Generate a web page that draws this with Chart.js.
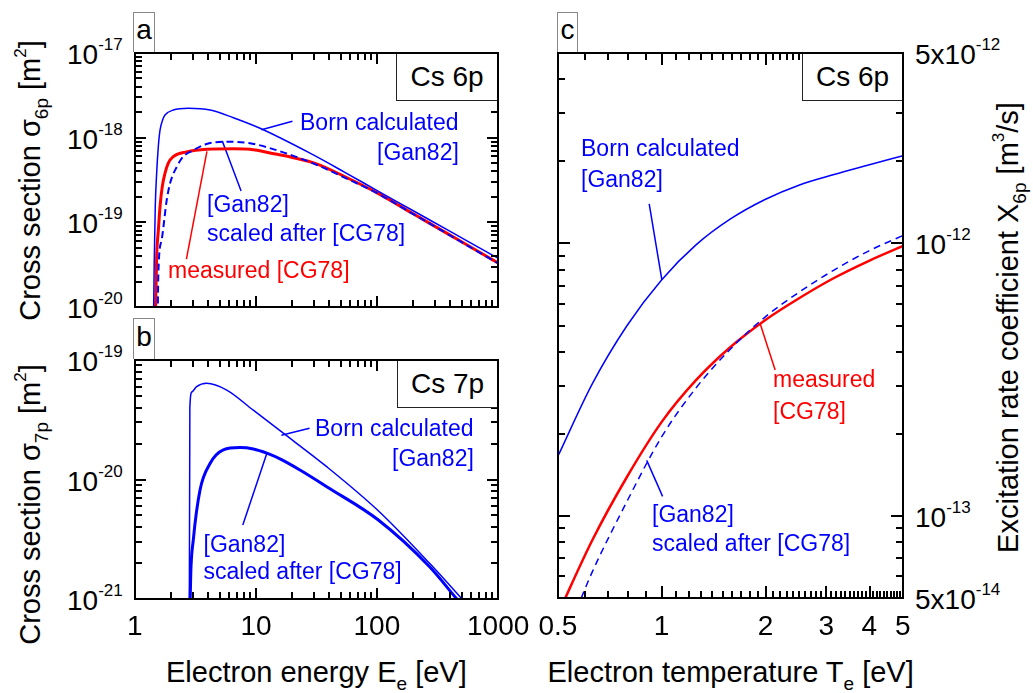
<!DOCTYPE html>
<html>
<head>
<meta charset="utf-8">
<title>Cs 6p / 7p electron impact excitation</title>
<script src="https://cdn.jsdelivr.net/npm/chart.js@4.4.1/dist/chart.umd.min.js"></script>
<style>
  body { margin: 0; background: #fff; }
  #fig { position: relative; width: 1033px; height: 693px; overflow: hidden; background: #fff;
         font-family: "Liberation Sans", Arial, Helvetica, sans-serif; color: #000; }
  #fig canvas { position: absolute; }
  .lbl { position: absolute; white-space: nowrap; line-height: 1; }
  .lbl .sp { position: relative; top: -14px; font-size: 17px; }
  .lbl .sb { position: relative; top: 8px; font-size: 19px; }
  .box { position: absolute; box-sizing: border-box; background: #fff; line-height: 1;
         display: flex; align-items: center; justify-content: center; }
</style>
</head>
<body>
<div id="fig">
  <canvas id="chartA"></canvas>
  <canvas id="chartB"></canvas>
  <canvas id="chartC"></canvas>
</div>
<script>
// ---- panel a : Cs 6p cross section vs electron energy ----
const energyBornA  = [1.40, 1.44, 1.47, 1.51, 1.56, 1.61, 1.70, 1.77, 2.07, 2.76, 4.17, 6.5, 10.8, 27.7, 53.3, 102, 196, 376, 722, 1000];
const sigmaBornA   = [1e-21, 3e-20, 1.5e-19, 3.8e-19, 8e-19, 1.23e-18, 1.65e-18, 1.85e-18, 2.12e-18, 2.22e-18, 2.12e-18, 1.72e-18, 1.29e-18, 6.6e-19, 3.95e-19, 2.34e-19, 1.39e-19, 8.24e-20, 4.89e-20, 3.77e-20];
const energyMeasA  = [1.45, 1.48, 1.51, 1.56, 1.61, 1.68, 1.77, 1.88, 2.07, 2.67, 3.93, 6.5, 8.9, 14.5, 20.3, 31.6, 53.3, 102, 196, 376, 722, 1000];
const sigmaMeasA   = [1e-21, 1e-20, 3.9e-20, 8.1e-20, 1.53e-19, 2.64e-19, 3.8e-19, 4.98e-19, 5.96e-19, 6.8e-19, 7.3e-19, 7.4e-19, 7.3e-19, 6.4e-19, 5.8e-19, 4.9e-19, 3.5e-19, 2.2e-19, 1.28e-19, 7.45e-20, 4.34e-20, 3.31e-20];
const energyScaledA = [1.52, 1.56, 1.66, 1.83, 1.95, 2.21, 2.5, 3.03, 3.91, 5.37, 8.9, 17.9, 33.7, 53.3, 102, 196, 376, 722, 1000];
const sigmaScaledA  = [1e-21, 2.5e-20, 6.2e-20, 1.84e-19, 2.9e-19, 4.5e-19, 5.96e-19, 7.1e-19, 8.4e-19, 8.97e-19, 8.6e-19, 6.5e-19, 4.6e-19, 3.4e-19, 2.18e-19, 1.27e-19, 7.4e-20, 4.3e-20, 3.3e-20];
// leader lines (label -> curve)
const leadBornAE = [11.1, 20.0],  leadBornAS = [1.24e-18, 1.56e-18];
const leadScalAE = [5.27, 7.53],  leadScalAS = [9.1e-19, 2.34e-19];
const leadMeasAE = [3.93, 2.66],  leadMeasAS = [6.9e-19, 3.68e-20];

// ---- panel b : Cs 7p cross section ----
const energyBornB  = [2.80, 2.84, 2.95, 3.23, 3.91, 5.73, 9.5, 16.3, 38.4, 102, 272, 504, 1000];
const sigmaBornB   = [1e-22, 4.0e-20, 5.4e-20, 5.98e-20, 6.38e-20, 5.6e-20, 3.8e-20, 2.5e-20, 1.28e-20, 5.5e-21, 1.99e-21, 1e-21, 4.5e-22];
const energyScaledB = [2.82, 2.89, 3.03, 3.45, 4.17, 5.37, 7.38, 9.5, 12.3, 16.4, 23.1, 38.4, 102, 272, 457, 1000];
const sigmaScaledB  = [5e-22, 1.64e-21, 3.1e-21, 8.2e-21, 1.36e-20, 1.77e-20, 1.85e-20, 1.8e-20, 1.66e-20, 1.46e-20, 1.2e-20, 8.7e-21, 4.6e-21, 1.86e-21, 1e-21, 4e-22];
const leadBornBE = [16.2, 27.7],  leadBornBS = [2.35e-20, 2.68e-20];
const leadScalBE = [12.3, 7.78],  leadScalBS = [1.66e-20, 4.16e-21];

// ---- panel c : Cs 6p excitation rate coefficient vs electron temperature ----
const tempBornC   = [0.5, 0.629, 0.792, 0.998, 1.256, 1.581, 1.991, 2.506, 3.155, 3.972, 5];
const rateBornC   = [1.66e-13, 3.06e-13, 4.99e-13, 7.35e-13, 9.88e-13, 1.23e-12, 1.45e-12, 1.64e-12, 1.79e-12, 1.94e-12, 2.10e-12];
const tempMeasC   = [0.5, 0.629, 0.792, 0.998, 1.256, 1.581, 1.991, 2.506, 3.155, 3.972, 5];
const rateMeasC   = [4.37e-14, 8.16e-14, 1.39e-13, 2.21e-13, 3.15e-13, 4.17e-13, 5.23e-13, 6.31e-13, 7.47e-13, 8.62e-13, 9.79e-13];
const tempScaledC = [0.536, 0.587, 0.629, 0.792, 0.998, 1.256, 1.581, 1.991, 2.506, 3.155, 3.972, 5];
const rateScaledC = [3.76e-14, 5.08e-14, 6.25e-14, 1.13e-13, 1.95e-13, 2.95e-13, 4.10e-13, 5.37e-13, 6.64e-13, 7.99e-13, 9.38e-13, 1.07e-12];
const leadBornCT = [0.919, 1.0],   leadBornCX = [1.396e-12, 7.35e-13];
const leadMeasCT = [1.93, 2.13],   leadMeasCX = [5.05e-13, 3.43e-13];
const leadScalCT = [0.904, 1.005], leadScalCX = [1.6e-13, 1.18e-13];

// tick labels
const energyTicks = [1, 10, 100, 1000];
const energyLabels = ['1', '10', '100', '1000'];
const sigmaTicksA = [1e-17, 1e-18, 1e-19, 1e-20];
const sigmaLabelsA = ['10^-17', '10^-18', '10^-19', '10^-20'];
const sigmaTicksB = [1e-19, 1e-20, 1e-21];
const sigmaLabelsB = ['10^-19', '10^-20', '10^-21'];
const tempTicks = [0.5, 1, 2, 3, 4, 5];
const tempLabels = ['0.5', '1', '2', '3', '4', '5'];
const rateTicks = [5e-12, 1e-12, 1e-13, 5e-14];
const rateLabels = ['5x10^-12', '10^-12', '10^-13', '5x10^-14'];

const BLUE = '#0000ff', RED = '#ff0000';
const PAD = 12;
const fig = document.getElementById('fig');

Chart.defaults.animation = false;
Chart.defaults.events = [];
Chart.defaults.plugins.legend.display = false;
Chart.defaults.plugins.tooltip.enabled = false;

// minor ticks 2..9 in every decade between lo and hi
function decadeMinors(lo, hi) {
  const out = [];
  for (let d = lo; d < hi * 0.999; d *= 10) {
    for (let k = 2; k <= 9; k++) out.push(d * k);
  }
  return out;
}

// inward ticks on all four sides plus the frame
const frameTicks = {
  id: 'frameTicks',
  afterDatasetsDraw(chart, args, o) {
    const { ctx, chartArea: a, scales: { x, y } } = chart;
    ctx.save();
    ctx.strokeStyle = '#000';
    ctx.lineWidth = 2;
    ctx.beginPath();
    const xt = (v, len) => {
      const p = Math.round(x.getPixelForValue(v));
      if (p < a.left - 0.5 || p > a.right + 0.5) return;
      ctx.moveTo(p, a.bottom); ctx.lineTo(p, a.bottom - len);
      ctx.moveTo(p, a.top); ctx.lineTo(p, a.top + len);
    };
    const yt = (v, len) => {
      const p = Math.round(y.getPixelForValue(v));
      if (p < a.top - 0.5 || p > a.bottom + 0.5) return;
      ctx.moveTo(a.left, p); ctx.lineTo(a.left + len, p);
      ctx.moveTo(a.right, p); ctx.lineTo(a.right - len, p);
    };
    o.xMajor.forEach(v => xt(v, o.major));
    o.xMinor.forEach(v => xt(v, o.minor));
    o.yMajor.forEach(v => yt(v, o.major));
    o.yMinor.forEach(v => yt(v, o.minor));
    ctx.stroke();
    ctx.strokeRect(a.left, a.top, a.width, a.height);
    ctx.restore();
  }
};

function series(xs, ys, color, width, dash) {
  return {
    data: xs.map((x, i) => ({ x, y: ys[i] })),
    borderColor: color, borderWidth: width, borderDash: dash || [],
    pointRadius: 0, fill: false, cubicInterpolationMode: 'monotone', clip: 0
  };
}

function panel(id, box, xr, yr, datasets, ticks) {
  const cv = document.getElementById(id);
  cv.width = box.w + 2 * PAD;
  cv.height = box.h + 2 * PAD;
  cv.style.left = (box.x - PAD) + 'px';
  cv.style.top = (box.y - PAD) + 'px';
  const chart = new Chart(cv, {
    type: 'line',
    data: { datasets },
    options: {
      responsive: false,
      devicePixelRatio: 1,
      layout: { padding: PAD },
      scales: {
        x: { type: 'logarithmic', min: xr[0], max: xr[1], display: false },
        y: { type: 'logarithmic', min: yr[0], max: yr[1], display: false }
      },
      plugins: { frameTicks: ticks }
    },
    plugins: [frameTicks]
  });
  chart.$box = box;
  return chart;
}

const boxA = { x: 135, y: 53, w: 363, h: 254 };
const boxB = { x: 135, y: 360, w: 363, h: 239 };
const boxC = { x: 558, y: 53, w: 345, h: 545 };

const chartA = panel('chartA', boxA, [1, 1000], [1e-20, 1e-17], [
  series(energyBornA, sigmaBornA, BLUE, 1.5),
  series(energyScaledA, sigmaScaledA, BLUE, 2, [7, 4]),
  series(energyMeasA, sigmaMeasA, RED, 3),
  series(leadBornAE, leadBornAS, BLUE, 1.5),
  series(leadScalAE, leadScalAS, BLUE, 1.5),
  series(leadMeasAE, leadMeasAS, RED, 1.5)
], { xMajor: energyTicks, xMinor: decadeMinors(1, 1000), yMajor: sigmaTicksA,
     yMinor: decadeMinors(1e-20, 1e-17), major: 11, minor: 7 });

const chartB = panel('chartB', boxB, [1, 1000], [1e-21, 1e-19], [
  series(energyBornB, sigmaBornB, BLUE, 1.5),
  series(energyScaledB, sigmaScaledB, BLUE, 3),
  series(leadBornBE, leadBornBS, BLUE, 1.5),
  series(leadScalBE, leadScalBS, BLUE, 1.5)
], { xMajor: energyTicks, xMinor: decadeMinors(1, 1000), yMajor: sigmaTicksB,
     yMinor: decadeMinors(1e-21, 1e-19), major: 11, minor: 7 });

const tempMinor = [];
for (let v = 6; v <= 49; v++) if (v % 10 !== 0) tempMinor.push(v / 10);
const rateMinor = [6e-14, 7e-14, 8e-14, 9e-14].concat(decadeMinors(1e-13, 1e-12), [2e-12, 3e-12, 4e-12]);

const chartC = panel('chartC', boxC, [0.5, 5], [5e-14, 5e-12], [
  series(tempBornC, rateBornC, BLUE, 1.5),
  series(tempScaledC, rateScaledC, BLUE, 1.5, [7, 5]),
  series(tempMeasC, rateMeasC, RED, 2.5),
  series(leadBornCT, leadBornCX, BLUE, 1.5),
  series(leadMeasCT, leadMeasCX, RED, 1.5),
  series(leadScalCT, leadScalCX, BLUE, 1.5)
], { xMajor: [1, 2, 3, 4, 5], xMinor: tempMinor, yMajor: [1e-13, 1e-12],
     yMinor: rateMinor, major: 12, minor: 7 });

// ---------- text ----------
function fmt(s) { return s.replace(/\^(\S+)/, '<span class="sp">$1</span>'); }

function label(html, x, y, o) {
  o = o || {};
  const size = o.size || 28;
  const d = document.createElement('div');
  d.className = 'lbl';
  d.innerHTML = html;
  d.style.fontSize = size + 'px';
  if (o.color) d.style.color = o.color;
  fig.appendChild(d);
  const w = d.offsetWidth, h = d.offsetHeight;
  let left = x;
  if (o.align === 'r') left = x - w;
  else if (o.align === 'c' || o.rot) left = x - w / 2;
  const top = o.base ? y - 0.85 * size : y - h / 2;
  d.style.left = left + 'px';
  d.style.top = top + 'px';
  if (o.rot) d.style.transform = 'rotate(-90deg)';
  return d;
}

function px(chart, axis, v) {
  const b = chart.$box;
  return axis === 'x' ? b.x - PAD + chart.scales.x.getPixelForValue(v)
                      : b.y - PAD + chart.scales.y.getPixelForValue(v);
}

sigmaTicksA.forEach((v, i) => label(fmt(sigmaLabelsA[i]), 123, px(chartA, 'y', v) + 2, { align: 'r' }));
sigmaTicksB.forEach((v, i) => label(fmt(sigmaLabelsB[i]), 123, px(chartB, 'y', v) + 2, { align: 'r' }));
energyTicks.forEach((v, i) => label(energyLabels[i], px(chartB, 'x', v), 626, { align: 'c' }));
tempTicks.forEach((v, i) => label(tempLabels[i], px(chartC, 'x', v), 626, { align: 'c' }));
rateTicks.forEach((v, i) => label(fmt(rateLabels[i]), 915, px(chartC, 'y', v) + 2, {}));

// axis titles
label('Cross section &sigma;<span class="sb">6p</span> [m<span class="sp">2</span>]', 30, 180, { rot: true, size: 29 });
label('Cross section &sigma;<span class="sb">7p</span> [m<span class="sp">2</span>]', 30, 504, { rot: true, size: 29 });
label('Electron energy E<span class="sb">e</span> [eV]', 316.5, 683, { align: 'c', base: true, size: 29 });
label('Electron temperature T<span class="sb">e</span> [eV]', 730.5, 683, { align: 'c', base: true, size: 29 });
label('Excitation rate coefficient X<span class="sb">6p</span> [m<span class="sp">3</span>/s]', 1008, 327, { rot: true, size: 29 });

// curve annotations
const A = { size: 23, base: true };
label('Born calculated', 459, 131, { ...A, align: 'r', color: BLUE });
label('[Gan82]', 459, 161, { ...A, align: 'r', color: BLUE });
label('[Gan82]', 207, 213, { ...A, color: BLUE });
label('scaled after [CG78]', 207, 242, { ...A, color: BLUE });
label('measured [CG78]', 168, 279, { ...A, color: RED });

label('Born calculated', 474, 437, { ...A, align: 'r', color: BLUE });
label('[Gan82]', 474, 467, { ...A, align: 'r', color: BLUE });
label('[Gan82]', 203.5, 553, { ...A, color: BLUE });
label('scaled after [CG78]', 203.5, 580, { ...A, color: BLUE });

label('Born calculated', 581, 157, { ...A, color: BLUE });
label('[Gan82]', 581, 188, { ...A, color: BLUE });
label('measured', 773, 388, { ...A, color: RED });
label('[CG78]', 773, 420, { ...A, color: RED });
label('[Gan82]', 652, 523, { ...A, color: BLUE });
label('scaled after [CG78]', 652, 552, { ...A, color: BLUE });

// boxes: species tag and panel letter
function tagBox(text, x, y, w, h, border, size) {
  const d = document.createElement('div');
  d.className = 'box';
  d.textContent = text;
  d.style.left = x + 'px'; d.style.top = y + 'px';
  d.style.width = w + 'px'; d.style.height = h + 'px';
  d.style.fontSize = size + 'px';
  Object.assign(d.style, border);
  fig.appendChild(d);
}
const tagBorder = { borderLeft: '1px solid #222', borderBottom: '1px solid #222' };
tagBox('Cs 6p', 396, 54, 101, 47, tagBorder, 28);
tagBox('Cs 7p', 397, 361, 100, 47, tagBorder, 28);
tagBox('Cs 6p', 802, 54, 100, 47, tagBorder, 28);
const letterBorder = { border: '1px solid #888', borderBottom: 'none', alignItems: 'flex-end', paddingBottom: '8px' };
tagBox('a', 133, 12, 22, 40, letterBorder, 28);
tagBox('b', 133, 318, 22, 41, letterBorder, 28);
tagBox('c', 557, 12, 21, 40, letterBorder, 28);
</script>
</body>
</html>
